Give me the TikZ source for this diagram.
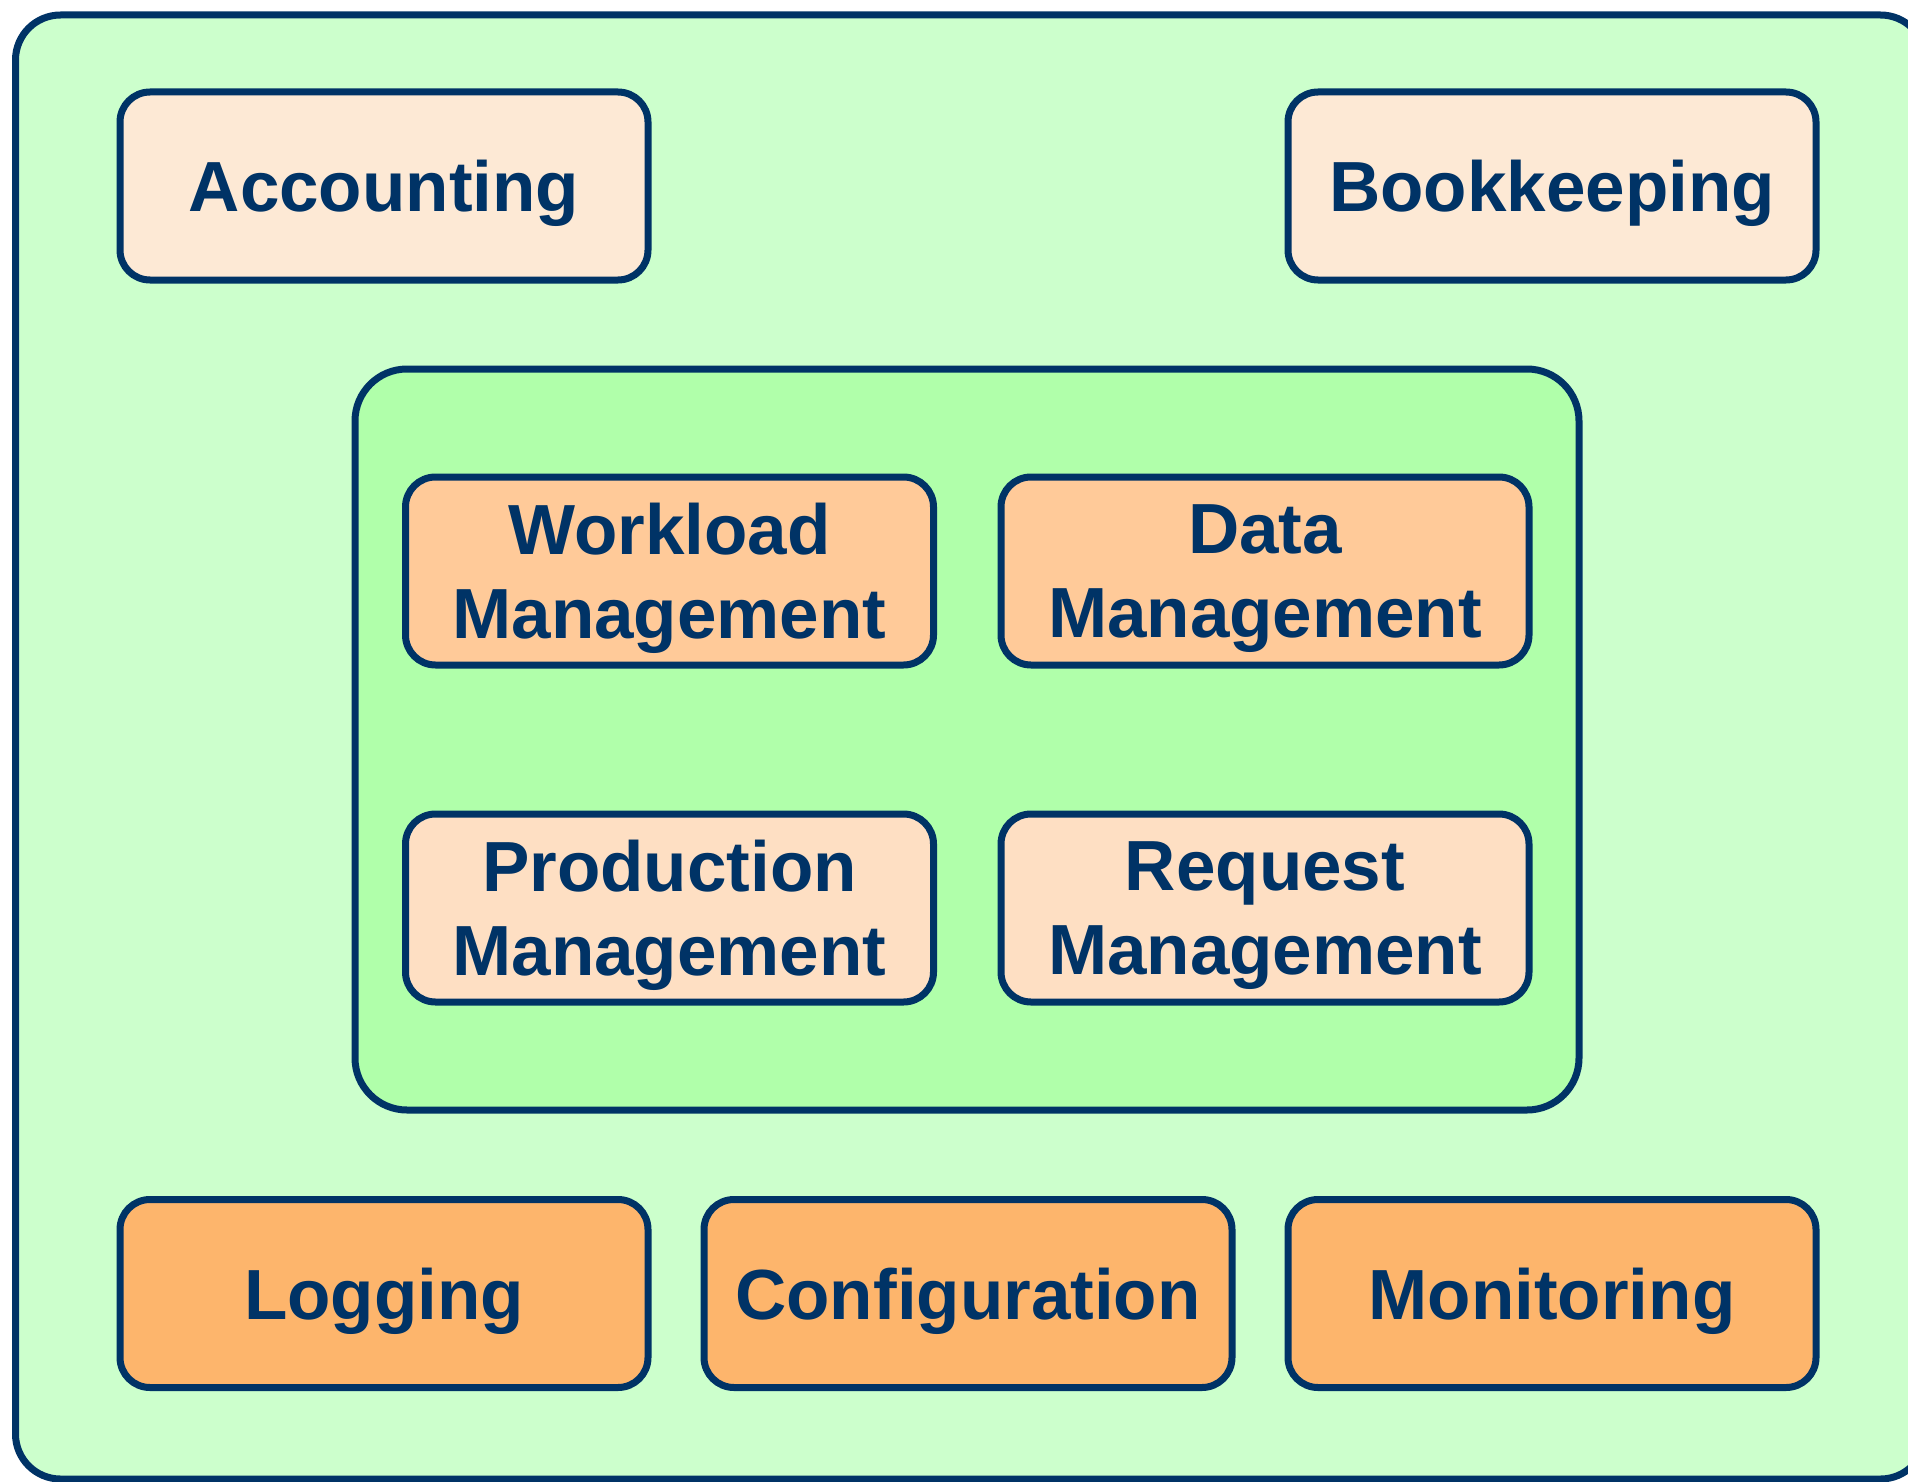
\documentclass[tikz,border=0pt]{standalone}
\usepackage{fontspec}
\setmainfont{Liberation Sans}
\definecolor{navy}{HTML}{003366}
\definecolor{outerbg}{HTML}{CCFFCC}
\definecolor{innerbg}{HTML}{B0FFAA}
\definecolor{paleorange}{HTML}{FDE9D5}
\definecolor{peach}{HTML}{FFCA99}
\definecolor{lightpeach}{HTML}{FEDFC3}
\definecolor{orange}{HTML}{FDB56C}
\tikzset{
  box/.style={draw=navy, line width=7pt, rounded corners=30pt,
    minimum width=528pt, minimum height=188pt, inner sep=0pt,
    text=navy, align=center, text depth=0pt,
    font=\bfseries\fontsize{71}{84}\selectfont},
  container/.style={draw=navy, line width=7pt, inner sep=0pt}
}
\begin{document}
\begin{tikzpicture}[x=1pt,y=-1pt]
\useasboundingbox (0,0) rectangle (1908,1482);
\node[container, fill=outerbg, rounded corners=45pt, minimum width=1910pt, minimum height=1464pt] (outer) at (970.5,747) {};
\node[container, fill=innerbg, rounded corners=52pt, minimum width=1224pt, minimum height=741pt] (inner) at (967,739.5) {};
\node[box, fill=paleorange] (acc) at (384,186) {Accounting};
\node[box, fill=paleorange] (book) at (1552,186) {Bookkeeping};
\node[box, fill=peach] (wlm) at (669.5,571) {Workload\\Management};
\node[box, fill=peach] (dm) at (1265,571) {Data\\Management};
\node[box, fill=lightpeach] (pm) at (669.5,908) {Production\\Management};
\node[box, fill=lightpeach] (rm) at (1265,908) {Request\\Management};
\node[box, fill=orange] (log) at (384,1293.5) {Logging};
\node[box, fill=orange] (conf) at (968,1293.5) {Configuration};
\node[box, fill=orange] (mon) at (1552,1293.5) {Monitoring};
\end{tikzpicture}
\end{document}
